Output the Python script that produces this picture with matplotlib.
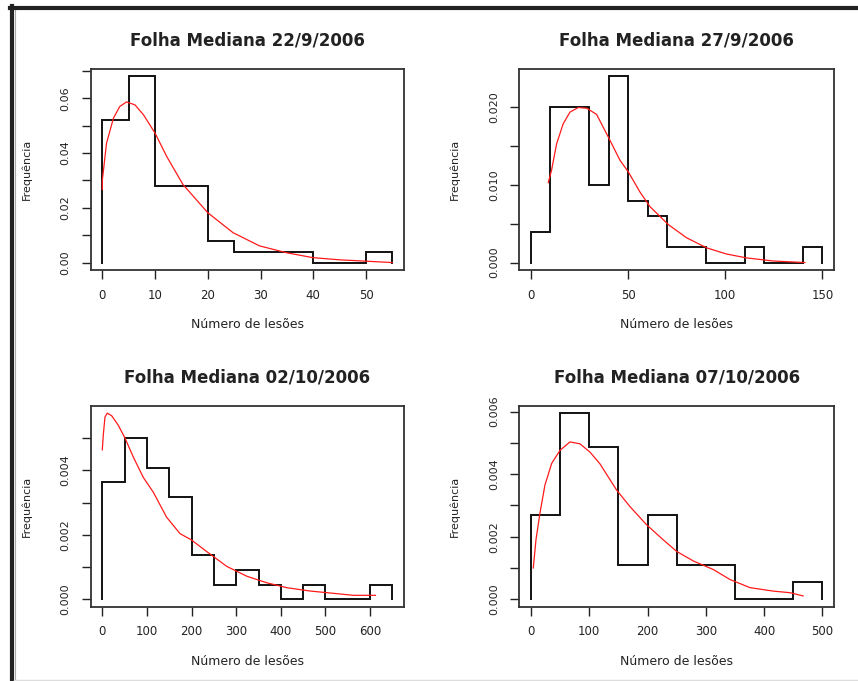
import numpy as np
import matplotlib
matplotlib.use("Agg")
import matplotlib.pyplot as plt
from matplotlib.lines import Line2D

# ---------------- data ----------------
titles = ["Folha Mediana 22/9/2006", "Folha Mediana 27/9/2006",
          "Folha Mediana 02/10/2006", "Folha Mediana 07/10/2006"]

# panel 1 (n = 50, bin width 5)
breaks1 = [0, 5, 10, 15, 20, 25, 30, 35, 40, 45, 50, 55]
dens1 = [0.052, 0.068, 0.028, 0.028, 0.008, 0.004, 0.004, 0.004, 0.0, 0.0, 0.004]
curve1_x = [0, 0, 0.8, 2.1, 3.3, 4.6, 6.2, 7.8, 10, 12.2, 15.3, 20, 24.8, 29.8,
            34.9, 39.9, 45, 50, 55]
curve1_y = [0.0267, 0.030, 0.0436, 0.0527, 0.057, 0.0587, 0.0576, 0.054, 0.0473,
            0.0388, 0.0285, 0.0182, 0.0109, 0.0061, 0.0036, 0.0018, 0.001, 0.0005, 0.0]
xticks1 = [0, 10, 20, 30, 40, 50]
yticks1 = [0.00, 0.01, 0.02, 0.03, 0.04, 0.05, 0.06, 0.07]
ylabels1 = ["0.00", "", "0.02", "", "0.04", "", "0.06", ""]

# panel 2 (n = 50, bin width 10)
breaks2 = [0, 10, 20, 30, 40, 50, 60, 70, 80, 90, 100, 110, 120, 130, 140, 150]
dens2 = [0.004, 0.020, 0.020, 0.010, 0.024, 0.008, 0.006, 0.002, 0.002, 0.0,
         0.0, 0.002, 0.0, 0.0, 0.002]
curve2_x = [8.9, 10.6, 13.2, 16.6, 20.1, 24.4, 28.7, 33.8, 39.8, 45.8, 50.1, 56.1,
            61.3, 70.7, 80.1, 90.4, 100.7, 111, 124.8, 141]
curve2_y = [0.0103, 0.0119, 0.0153, 0.0179, 0.0194, 0.0200, 0.0199, 0.0191, 0.0162,
            0.0132, 0.0117, 0.0091, 0.0072, 0.0049, 0.0032, 0.0019, 0.0011, 0.0006,
            0.0002, 0.0]
xticks2 = [0, 50, 100, 150]
yticks2 = [0.000, 0.005, 0.010, 0.015, 0.020]
ylabels2 = ["0.000", "", "0.010", "", "0.020"]

# panel 3 (n = 44, bin width 50)
breaks3 = [0, 50, 100, 150, 200, 250, 300, 350, 400, 450, 500, 550, 600, 650]
dens3 = [0.003636, 0.005, 0.004091, 0.003182, 0.001364, 0.000455, 0.000909,
         0.000455, 0.0, 0.000455, 0.0, 0.0, 0.000455]
curve3_x = [0, 2.2, 6, 11.2, 21, 36, 51, 70, 92, 114.5, 144, 174, 200, 234, 279,
            324, 369, 414, 466, 518, 563, 612]
curve3_y = [0.00464, 0.0051, 0.00566, 0.00578, 0.0057, 0.0054, 0.005, 0.0044,
            0.00378, 0.00332, 0.00255, 0.00204, 0.00184, 0.00148, 0.00102,
            0.000714, 0.00051, 0.000357, 0.000255, 0.000184, 0.000122, 0.000122]
xticks3 = [0, 100, 200, 300, 400, 500, 600]
yticks3 = [0.000, 0.001, 0.002, 0.003, 0.004, 0.005]
ylabels3 = ["0.000", "", "0.002", "", "0.004", ""]

# panel 4 (n = 37, bin width 50)
breaks4 = [0, 50, 100, 150, 200, 250, 300, 350, 400, 450, 500]
dens4 = [0.00270, 0.00595, 0.00486, 0.00108, 0.00270, 0.00108, 0.00108, 0.0,
         0.0, 0.00054]
curve4_x = [4, 8.6, 15.4, 24, 35.5, 49.8, 67, 84, 101, 118, 147, 170, 198.5, 227,
            250, 279, 313, 341.5, 376, 416, 444.5, 467]
curve4_y = [0.001, 0.0019, 0.00275, 0.00365, 0.00434, 0.00476, 0.00503, 0.00497,
            0.00471, 0.00434, 0.00349, 0.00296, 0.00238, 0.0019, 0.00153, 0.00122,
            0.00095, 0.00063, 0.00037, 0.00026, 0.00021, 0.000106]
xticks4 = [0, 100, 200, 300, 400, 500]
yticks4 = [0.000, 0.001, 0.002, 0.003, 0.004, 0.005, 0.006]
ylabels4 = ["0.000", "", "0.002", "", "0.004", "", "0.006"]

xlabel = "Número de lesões"
ylabel = "Frequência"

panels = [
    (breaks1, dens1, curve1_x, curve1_y, xticks1, yticks1, ylabels1),
    (breaks2, dens2, curve2_x, curve2_y, xticks2, yticks2, ylabels2),
    (breaks3, dens3, curve3_x, curve3_y, xticks3, yticks3, ylabels3),
    (breaks4, dens4, curve4_x, curve4_y, xticks4, yticks4, ylabels4),
]

# ---------------- figure ----------------
W, H = 858, 681
fig = plt.figure(figsize=(W / 100, H / 100), dpi=100)
fig.patch.set_facecolor("white")
plt.rcParams["font.family"] = ["DejaVu Sans"]

TXT = "#222222"
boxes = [  # left, top, right, bottom in pixels
    (90.7, 69, 404, 270),
    (519.3, 69, 834, 270),
    (90.7, 405.7, 404, 606.7),
    (519.3, 405.7, 834, 606.7),
]

for (l, t, r, b), title, (br, de, cx, cy, xt, yt, yl) in zip(boxes, titles, panels):
    ax = fig.add_axes([l / W, 1 - b / H, (r - l) / W, (b - t) / H])
    br = np.asarray(br, float)
    de = np.asarray(de, float)
    xs = np.concatenate([[br[0]], br])
    ys = np.concatenate([[0.0], de, [0.0]])
    ax.plot(xs, ys, drawstyle="steps-post", color="#111111", lw=1.4,
            solid_joinstyle="miter")
    ax.plot(cx, cy, color="#ff1a1a", lw=0.9)

    xr = br[-1] - br[0]
    ax.set_xlim(br[0] - 0.04 * xr, br[-1] + 0.04 * xr)
    ymax = max(de.max(), max(cy))
    ax.set_ylim(-0.04 * ymax, 1.04 * ymax)

    ax.set_xticks(xt)
    ax.set_xticklabels([str(v) for v in xt], fontsize=8.5, color=TXT)
    ax.set_yticks(yt)
    ax.set_yticklabels(yl, fontsize=8, color=TXT, rotation=90, va="center")
    ax.tick_params(axis="both", direction="out", length=6.5, width=1.0,
                   color="#222222")
    ax.tick_params(axis="x", pad=7)
    ax.tick_params(axis="y", pad=8)
    for s in ax.spines.values():
        s.set_linewidth(1.3)
        s.set_color("#333333")

    ax.set_title(title, fontsize=12, fontweight="bold", color=TXT, pad=17)
    ax.set_xlabel(xlabel, fontsize=9, color=TXT, labelpad=12)
    ax.set_ylabel(ylabel, fontsize=8, color=TXT, labelpad=21)

# decorative frame (left and top thick lines, thin grey bottom line)
fig.add_artist(Line2D([12 / W, 12 / W], [0, 1 - 6 / H], color="#222222", lw=3.0,
                      transform=fig.transFigure))
fig.add_artist(Line2D([14.5 / W, 14.5 / W], [0, 1 - 9 / H], color="#aaaaaa", lw=0.8,
                      transform=fig.transFigure))
fig.add_artist(Line2D([10 / W, 1], [1 - 7.5 / H, 1 - 7.5 / H], color="#222222",
                      lw=3.0, transform=fig.transFigure))
fig.add_artist(Line2D([14 / W, 1], [1 - 679.5 / H, 1 - 679.5 / H], color="#dddddd",
                      lw=1.0, transform=fig.transFigure))

fig.savefig("out.png", dpi=100, facecolor="white")
